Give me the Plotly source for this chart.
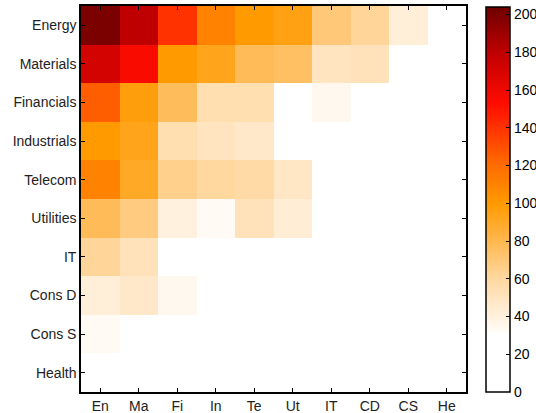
import plotly.graph_objects as go

sectors = ["Energy", "Materials", "Financials", "Industrials", "Telecom",
           "Utilities", "IT", "Cons D", "Cons S", "Health"]
abbrev = ["En", "Ma", "Fi", "In", "Te", "Ut", "IT", "CD", "CS", "He"]

row_energy      = [200, 180, 140, 110, 100, 95, 70, 62, 42, 0]
row_materials   = [172, 155, 100, 93, 78, 75, 50, 52, 0, 0]
row_financials  = [125, 97, 77, 55, 55, 0, 35, 0, 0, 0]
row_industrials = [100, 93, 55, 50, 47, 0, 0, 0, 0, 0]
row_telecom     = [110, 90, 65, 60, 58, 48, 0, 0, 0, 0]
row_utilities   = [78, 68, 40, 33, 52, 43, 0, 0, 0, 0]
row_it          = [62, 52, 0, 0, 0, 0, 0, 0, 0, 0]
row_consd       = [42, 47, 35, 0, 0, 0, 0, 0, 0, 0]
row_conss       = [33, 0, 0, 0, 0, 0, 0, 0, 0, 0]
row_health      = [0, 0, 0, 0, 0, 0, 0, 0, 0, 0]

z = [row_energy, row_materials, row_financials, row_industrials, row_telecom,
     row_utilities, row_it, row_consd, row_conss, row_health]

zmax = 204
colorscale = [
    [0.0, "#FFFFFF"],
    [0.15, "#FFFFFF"],
    [0.16, "#FFFBF5"],
    [0.20, "#FFF0DC"],
    [0.30, "#FFD69C"],
    [0.40, "#FFB548"],
    [0.49, "#FF9A00"],
    [0.60, "#FF6600"],
    [0.75, "#FF0C00"],
    [0.88, "#C00000"],
    [1.0, "#6E0000"],
]

fig = go.Figure(go.Heatmap(
    z=z, x=abbrev, y=sectors,
    zmin=0, zmax=zmax,
    colorscale=colorscale,
    xgap=0, ygap=0,
    colorbar=dict(
        x=1.051, xanchor="left", xpad=0,
        y=0, yanchor="bottom", ypad=0,
        lenmode="pixels", len=385,
        thickness=24,
        outlinecolor="black", outlinewidth=1.5,
        ticks="inside", ticklen=4, tickcolor="black",
        tickvals=[0, 20, 40, 60, 80, 100, 120, 140, 160, 180, 200],
        tickfont=dict(size=14, color="black"),
    ),
))

fig.update_layout(
    width=536, height=413,
    margin=dict(l=81, r=70, t=6, b=21, autoexpand=False),
    plot_bgcolor="white", paper_bgcolor="white",
    font=dict(family="Liberation Sans, Arial, sans-serif", size=14, color="#222"),
)
fig.update_xaxes(showline=True, linecolor="black", linewidth=1.5, mirror="ticks",
                 ticks="inside", ticklen=4, tickcolor="black", showgrid=False,
                 automargin=False, tickfont=dict(size=14))
fig.update_yaxes(showline=True, linecolor="black", linewidth=1.5, mirror="ticks",
                 ticks="inside", ticklen=4, tickcolor="black", showgrid=False,
                 automargin=False, autorange="reversed", tickfont=dict(size=14))

fig.write_html("out.html", config={"displayModeBar": False},
               post_script="document.body.style.margin='0';")
